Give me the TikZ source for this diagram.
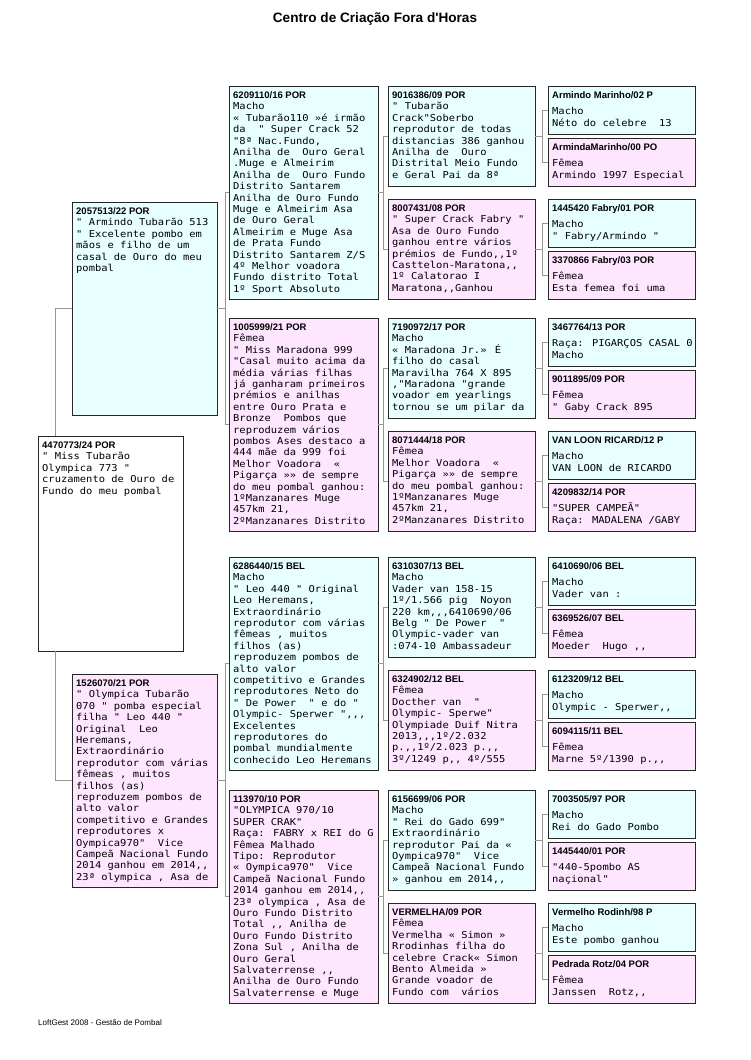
\documentclass[tikz,border=0pt]{standalone}
\usepackage{fontspec}
\setmainfont{Liberation Sans}
\newfontfamily\hdfont{Liberation Sans}[Ligatures=TeXOff]
\newfontfamily\bdfont{DejaVu Sans Mono}[Ligatures=TeXOff,FakeStretch=1.1]
\usepackage{tikz}

\definecolor{sirefill}{RGB}{232,255,255}
\definecolor{damfill}{RGB}{255,230,255}
\definecolor{linkgray}{RGB}{150,150,150}

\newcommand{\hd}{\hdfont\bfseries\fontsize{9.5}{11.4}\selectfont}
\newcommand{\bd}{\bdfont\fontsize{9.5}{11.4}\selectfont}

% one pedigree card: [gap], name, style, x, y, ring, notes
\newcommand{\bird}[7][0pt]{%
  \node[#3, anchor=north west] (#2) at (#4,#5) {};
  \node[txt] (#2t) at (#2.north west) {{\hd #6}\\[#1]#7};
}
% sire and dam joined to their young one
\newcommand{\pair}[4]{%
  \draw[link] (#1.west) -- ++(-#4,0) coordinate (#3j) |- (#2.west);
  \draw[link] (#3.east) -- (#3.east -| #3j);
}

\begin{document}
\begin{tikzpicture}[x=1pt, y=-1pt,
    box/.style={draw=black!85, line width=0.9pt, inner sep=0pt, outer sep=0pt},
    sire/.style={box, fill=sirefill},
    dam/.style={box, fill=damfill},
    c2/.style={minimum width=145pt, minimum height=213pt},
    c3/.style={minimum width=149pt, minimum height=213pt},
    c4/.style={minimum width=147pt, minimum height=100pt},
    c5/.style={minimum width=147pt, minimum height=48pt},
    txt/.style={anchor=north west, inner sep=0pt, shift={(4,5.5)}, align=left, font=\bd},
    link/.style={draw=linkgray, line width=0.7pt}]
    \fill[white] (0,0) rectangle (750,1060);
    \useasboundingbox (0,0) rectangle (750,1060);

    \node[font=\hdfont\bfseries\fontsize{13.6}{15}\selectfont] (title) at (375,19) {Centro de Criação Fora d'Horas};

    % great-grandparents
    \bird[5pt]{pArmindo}{sire,c5}{548}{86}{Armindo Marinho/02 P}{Macho\\Néto do celebre~ 13}
    \bird[5pt]{pArminda}{dam,c5}{548}{138}{ArmindaMarinho/00 PO}{Fêmea\\Armindo 1997 Especial}
    \bird[5pt]{p1445420}{sire,c5}{548}{199}{1445420 Fabry/01 POR}{Macho\\" Fabry/Armindo "}
    \bird[5pt]{p3370866}{dam,c5}{548}{251}{3370866 Fabry/03 POR}{Fêmea\\Esta femea foi uma}
    \bird[5pt]{p3467764}{sire,c5}{548}{318}{3467764/13 POR}{Raça: PIGARÇOS CASAL 0\\Macho}
    \bird[5pt]{p9011895}{dam,c5}{548}{370}{9011895/09 POR}{Fêmea\\" Gaby Crack 895}
    \bird[5pt]{pVanLoon}{sire,c5}{548}{431}{VAN LOON RICARD/12 P}{Macho\\VAN LOON de RICARDO}
    \bird[5pt]{p4209832}{dam,c5}{548}{483}{4209832/14 POR}{"SUPER CAMPEÃ"\\Raça: MADALENA /GABY}
    \bird[5pt]{p6410690}{sire,c5}{548}{557}{6410690/06 BEL}{Macho\\Vader van :}
    \bird[5pt]{p6369526}{dam,c5}{548}{609}{6369526/07 BEL}{Fêmea\\Moeder~ Hugo ,,}
    \bird[5pt]{p6123209}{sire,c5}{548}{670}{6123209/12 BEL}{Macho\\Olympic - Sperwer,,}
    \bird[5pt]{p6094115}{dam,c5}{548}{722}{6094115/11 BEL}{Fêmea\\Marne 5º/1390 p.,,}
    \bird[5pt]{p7003505}{sire,c5}{548}{790}{7003505/97 POR}{Macho\\Rei do Gado Pombo}
    \bird[5pt]{p1445440}{dam,c5}{548}{842}{1445440/01 POR}{"440-5pombo AS\\naçional"}
    \bird[5pt]{pVermelho}{sire,c5}{548}{903}{Vermelho Rodinh/98 P}{Macho\\Este pombo ganhou}
    \bird[5pt]{pPedrada}{dam,c5}{548}{955}{Pedrada Rotz/04 POR}{Fêmea\\Janssen~ Rotz,,}

    % grandparents
    \bird{p9016386}{sire,c4}{388}{86}{9016386/09 POR}{" Tubarão\\Crack"Soberbo\\reprodutor de todas\\distancias 386 ganhou\\Anilha de~ Ouro\\Distrital Meio Fundo\\e Geral Pai da 8ª}
    \bird{p8007431}{dam,c4}{388}{199}{8007431/08 POR}{" Super Crack Fabry "\\Asa de Ouro Fundo\\ganhou entre vários\\prémios de Fundo,,1º\\Casttelon-Maratona,,\\1º Calatorao I\\Maratona,,Ganhou}
    \bird{p7190972}{sire,c4}{388}{318}{7190972/17 POR}{Macho\\« Maradona Jr.» É\\filho do casal\\Maravilha 764 X 895\\,"Maradona "grande\\voador em yearlings\\tornou se um pilar da}
    \bird{p8071444}{dam,c4}{388}{431}{8071444/18 POR}{Fêmea\\Melhor Voadora~ «\\Pigarça »» de sempre\\do meu pombal ganhou:\\1ºManzanares Muge\\457km 21,\\2ºManzanares Distrito}
    \bird{p6310307}{sire,c4}{388}{557}{6310307/13 BEL}{Macho\\Vader van 158-15\\1º/1.566 pig~ Noyon\\220 km,,,6410690/06\\Belg " De Power~ "\\Olympic-vader van\\:074-10 Ambassadeur}
    \bird{p6324902}{dam,c4}{388}{670}{6324902/12 BEL}{Fêmea\\Docther van~ "\\Olympic- Sperwe"\\Olympiade Duif Nitra\\2013,,,1º/2.032\\p.,,1º/2.023 p.,,\\3º/1249 p,, 4º/555}
    \bird{p6156699}{sire,c4}{388}{790}{6156699/06 POR}{Macho\\" Rei do Gado 699"\\Extraordinário\\reprodutor Pai da «\\Oympica970"~ Vice\\Campeã Nacional Fundo\\» ganhou em 2014,,}
    \bird{pVermelha}{dam,c4}{388}{903}{VERMELHA/09 POR}{Fêmea\\Vermelha « Simon »\\Rrodinhas filha do\\celebre Crack« Simon\\Bento Almeida »\\Grande voador de\\Fundo com~ vários}

    % parents of sire and dam
    \bird{p6209110}{sire,c3}{229}{86}{6209110/16 POR}{Macho\\« Tubarão110 »é irmão\\da~ " Super Crack 52\\"8ª Nac.Fundo,\\Anilha de~ Ouro Geral\\.Muge e Almeirim\\Anilha de~ Ouro Fundo\\Distrito Santarem\\Anilha de Ouro Fundo\\Muge e Almeirim Asa\\de Ouro Geral\\Almeirim e Muge Asa\\de Prata Fundo\\Distrito Santarem Z/S\\4º Melhor voadora\\Fundo distrito Total\\1º Sport Absoluto}
    \bird{p1005999}{dam,c3}{229}{318}{1005999/21 POR}{Fêmea\\" Miss Maradona 999\\"Casal muito acima da\\média várias filhas\\já ganharam primeiros\\prémios e anilhas\\entre Ouro Prata e\\Bronze~ Pombos que\\reproduzem vários\\pombos Ases destaco a\\444 mãe da 999 foi\\Melhor Voadora~ «\\Pigarça »» de sempre\\do meu pombal ganhou:\\1ºManzanares Muge\\457km 21,\\2ºManzanares Distrito}
    \bird{p6286440}{sire,c3}{229}{557}{6286440/15 BEL}{Macho\\" Leo 440 " Original\\Leo Heremans,\\Extraordinário\\reprodutor com várias\\fêmeas , muitos\\filhos (as)\\reproduzem pombos de\\alto valor\\competitivo e Grandes\\reprodutores Neto do\\" De Power~ " e do "\\Olympic- Sperwer ",,,\\Excelentes\\reprodutores do\\pombal mundialmente\\conhecido Leo Heremans}
    \bird{p113970}{dam,c3}{229}{790}{113970/10 POR}{"OLYMPICA 970/10\\SUPER CRAK"\\Raça: FABRY x REI do G\\Fêmea Malhado\\Tipo: Reprodutor\\« Oympica970"~ Vice\\Campeã Nacional Fundo\\2014 ganhou em 2014,,\\23ª olympica , Asa de\\Ouro Fundo Distrito\\Total ,, Anilha de\\Ouro Fundo Distrito\\Zona Sul , Anilha de\\Ouro Geral\\Salvaterrense ,,\\Anilha de Ouro Fundo\\Salvaterrense e Muge}

    % parents
    \bird{p2057513}{sire,c2}{72}{202}{2057513/22 POR}{" Armindo Tubarão 513\\" Excelente pombo em\\mãos e filho de um\\casal de Ouro do meu\\pombal}
    \bird{p1526070}{dam,c2}{72}{674}{1526070/21 POR}{" Olympica Tubarão\\070 " pomba especial\\filha " Leo 440 "\\Original~ Leo\\Heremans,\\Extraordinário\\reprodutor com várias\\fêmeas , muitos\\filhos (as)\\reproduzem pombos de\\alto valor\\competitivo e Grandes\\reprodutores x\\Oympica970"~ Vice\\Campeã Nacional Fundo\\2014 ganhou em 2014,,\\23ª olympica , Asa de}

    % the bird itself
    \bird{p4470773}{box,fill=white,c2,minimum height=215pt}{38}{436}{4470773/24 POR}{" Miss Tubarão\\Olympica 773 "\\cruzamento de Ouro de\\Fundo do meu pombal}

    % lines
    \pair{pArmindo}{pArminda}{p9016386}{6}
    \pair{p1445420}{p3370866}{p8007431}{6}
    \pair{p3467764}{p9011895}{p7190972}{6}
    \pair{pVanLoon}{p4209832}{p8071444}{6}
    \pair{p6410690}{p6369526}{p6310307}{6}
    \pair{p6123209}{p6094115}{p6324902}{6}
    \pair{p7003505}{p1445440}{p6156699}{6}
    \pair{pVermelho}{pPedrada}{pVermelha}{6}
    \pair{p9016386}{p8007431}{p6209110}{5}
    \pair{p7190972}{p8071444}{p1005999}{5}
    \pair{p6310307}{p6324902}{p6286440}{5}
    \pair{p6156699}{pVermelha}{p113970}{5}
    \pair{p6209110}{p1005999}{p2057513}{4}
    \pair{p6286440}{p113970}{p1526070}{4}
    \draw[link] (p2057513.west) -- ++(-17,0) coordinate (mj) -- (mj |- p4470773.north);
    \draw[link] (mj |- p4470773.south) |- (p1526070.west);

    \node[anchor=west, inner sep=0pt, font=\hdfont\fontsize{8}{9}\selectfont] (foot) at (38,1023) {LoftGest 2008 - Gestão de Pombal};
\end{tikzpicture}
\end{document}
